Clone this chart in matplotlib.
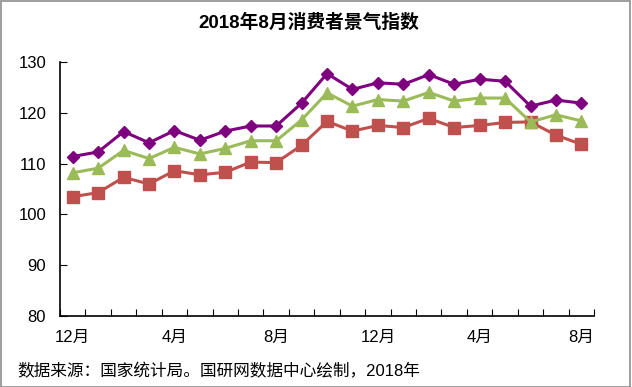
import matplotlib
matplotlib.use('Agg')
import matplotlib.pyplot as plt
from matplotlib.patches import Rectangle
import numpy as np

plt.rcParams['font.family'] = ['Liberation Sans', 'Noto Sans CJK SC', 'DejaVu Sans']

# 2016年12月 - 2018年8月
months = ['12月', '1月', '2月', '3月', '4月', '5月', '6月', '7月', '8月', '9月', '10月',
          '11月', '12月', '1月', '2月', '3月', '4月', '5月', '6月', '7月', '8月']
expectation = [111.4, 112.3, 116.3, 114.1, 116.5, 114.6, 116.4, 117.4, 117.4, 121.9, 127.7,
               124.6, 125.9, 125.6, 127.5, 125.6, 126.6, 126.2, 121.3, 122.5, 121.9]
confidence = [108.2, 109.1, 112.6, 111.0, 113.2, 111.9, 113.0, 114.5, 114.5, 118.6, 123.9,
              121.3, 122.6, 122.3, 124.0, 122.3, 122.9, 122.9, 118.2, 119.6, 118.4]
satisfaction = [103.5, 104.3, 107.3, 106.0, 108.6, 107.8, 108.3, 110.3, 110.2, 113.6, 118.3,
                116.4, 117.5, 117.1, 118.9, 117.1, 117.5, 118.1, 118.2, 115.6, 113.8]

tick_pos = [0, 4, 8, 12, 16, 20]

fig = plt.figure(figsize=(6.32, 3.87), dpi=100)
fig.patches.append(Rectangle((0.001, 0.001), 0.996, 0.996, transform=fig.transFigure,
                             fill=False, edgecolor='#8c8c8c', linewidth=1.2))
ax = fig.add_axes([0.095, 0.183, 0.845, 0.657])

x = np.arange(len(months))
ax.plot(x, satisfaction, color='#C0504D', linewidth=2.2, marker='s', markersize=8)
ax.plot(x, confidence, color='#9BBB59', linewidth=2.2, marker='^', markersize=9)
ax.plot(x, expectation, color='#7F007F', linewidth=2.2, marker='D', markersize=6)

ax.set_xlim(-0.5, len(months) - 0.5)
ax.set_ylim(80, 130)
ax.set_yticks([80, 90, 100, 110, 120, 130])
ax.tick_params(axis='y', direction='in', length=5, labelsize=12, pad=10)

ax.set_xticks(np.arange(-0.5, len(months)), minor=False)
ax.set_xticklabels([])
ax.tick_params(axis='x', direction='in', length=5)
ax.set_xticks(tick_pos, minor=True)
ax.set_xticklabels([months[i] for i in tick_pos], minor=True)
ax.tick_params(axis='x', which='minor', length=0, labelsize=12, pad=10)

for s in ['top', 'right']:
    ax.spines[s].set_visible(False)
ax.spines['left'].set_linewidth(1.2)
ax.spines['bottom'].set_linewidth(1.2)

fig.text(0.488, 0.942, '2018年8月消费者景气指数', ha='center', va='center',
         fontsize=13.5, fontweight='bold')
fig.text(0.027, 0.04, '数据来源：国家统计局。国研网数据中心绘制，2018年', ha='left',
         va='center', fontsize=12)

fig.savefig('out.png', dpi=100)
